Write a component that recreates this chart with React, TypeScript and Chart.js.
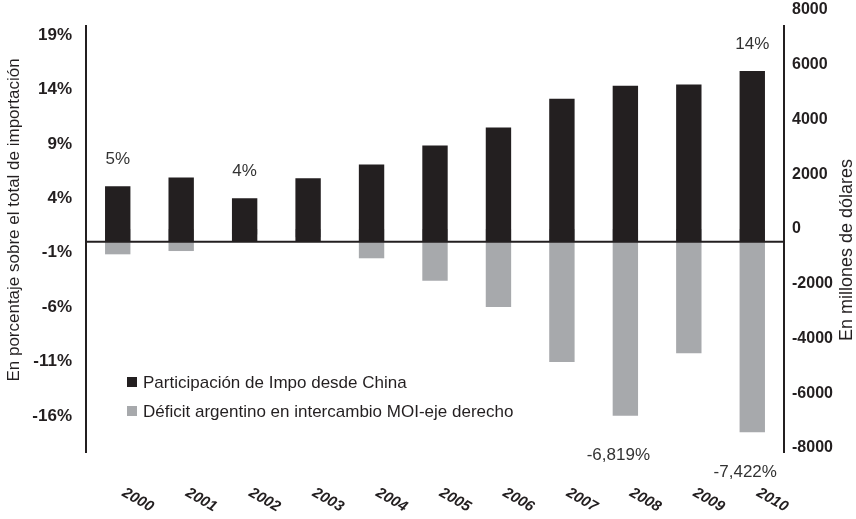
import React, { useEffect, useRef } from 'react';
import { Chart, registerables } from 'chart.js';

Chart.register(...registerables);

// ---- data ----
const years = ['2000', '2001', '2002', '2003', '2004', '2005', '2006', '2007', '2008', '2009', '2010'];
const shareChina = [5.1, 5.9, 4.0, 5.85, 7.1, 8.85, 10.5, 13.15, 14.35, 14.45, 15.7];
const deficitMOI = [-925, -805, -200, -300, -1070, -1890, -2850, -4860, -6819, -4540, -7422];
const shareLabels = ['5%', '', '4%', '', '', '', '', '', '', '', '14%'];
const deficitLabels = ['', '', '', '', '', '', '', '', '-6,819%', '', '-7,422%'];
const leftTicks = [19, 14, 9, 4, -1, -6, -11, -16];
const rightTicks = [8000, 6000, 4000, 2000, 0, -2000, -4000, -6000, -8000];
const seriesNames = ['Participación de Impo desde China', 'Déficit argentino en intercambio MOI-eje derecho'];
const leftTitle = 'En porcentaje sobre el total de importación';
const rightTitle = 'En millones de dólares';

const FONT = '"Liberation Sans", Arial, Helvetica, sans-serif';
const INK = '#231f20';
const GRAY = '#a7a9ac';

const decorPlugin = {
  id: 'decor',
  afterDatasetsDraw(chart: any) {
    const { ctx, chartArea, scales } = chart;
    const yL = scales.yL;
    const xS = scales.x;
    ctx.save();
    // axis lines
    ctx.strokeStyle = INK;
    ctx.lineWidth = 2;
    ctx.beginPath();
    ctx.moveTo(chartArea.left, 25);
    ctx.lineTo(chartArea.left, chartArea.bottom);
    ctx.moveTo(chartArea.right, 25);
    ctx.lineTo(chartArea.right, chartArea.bottom);
    ctx.stroke();
    // zero line
    const y0 = yL.getPixelForValue(0);
    ctx.beginPath();
    ctx.moveTo(chartArea.left, y0);
    ctx.lineTo(chartArea.right, y0);
    ctx.stroke();

    // value labels
    ctx.fillStyle = '#333333';
    ctx.font = `17px ${FONT}`;
    ctx.textAlign = 'center';
    ctx.textBaseline = 'middle';
    const m0 = chart.getDatasetMeta(0);
    const m1 = chart.getDatasetMeta(1);
    shareLabels.forEach((t, i) => {
      if (!t) return;
      const el = m0.data[i];
      ctx.fillText(t, el.x, el.y - 27);
    });
    deficitLabels.forEach((t, i) => {
      if (!t) return;
      const el = m1.data[i];
      ctx.fillText(t, el.x - 7, el.y + 40);
    });

    // legend
    const ds = chart.data.datasets;
    ctx.textAlign = 'left';
    ctx.font = `17px ${FONT}`;
    [382, 411].forEach((y, k) => {
      ctx.fillStyle = ds[k].backgroundColor;
      ctx.fillRect(127, y - 5, 10, 10);
      ctx.fillStyle = INK;
      ctx.fillText(ds[k].label, 143, y + 1);
    });

    // x labels (rotated clockwise)
    ctx.font = `italic bold 15px ${FONT}`;
    ctx.fillStyle = INK;
    ctx.textAlign = 'center';
    years.forEach((t, i) => {
      const x = xS.getPixelForTick(i) + 20;
      ctx.save();
      ctx.translate(x, 500);
      ctx.rotate((30 * Math.PI) / 180);
      ctx.fillText(t, 0, 0);
      ctx.restore();
    });

    // axis titles
    ctx.fillStyle = INK;
    ctx.textAlign = 'center';
    ctx.save();
    ctx.font = `17px ${FONT}`;
    ctx.translate(14, 220);
    ctx.rotate(-Math.PI / 2);
    ctx.fillText(leftTitle, 0, 0);
    ctx.restore();
    ctx.save();
    ctx.font = `18px ${FONT}`;
    ctx.translate(847, 250);
    ctx.rotate(-Math.PI / 2);
    ctx.fillText(rightTitle, 0, 0);
    ctx.restore();
    ctx.restore();
  },
};

export default function App() {
  const ref = useRef<HTMLCanvasElement>(null);
  useEffect(() => {
    document.body.style.margin = '0';
    const canvas = ref.current;
    if (!canvas) return;
    const chart = new Chart(canvas, {
      type: 'bar',
      data: {
        labels: years,
        datasets: [
          {
            label: seriesNames[0],
            data: shareChina,
            backgroundColor: INK,
            yAxisID: 'yL',
            order: 1,
            barPercentage: 0.4,
            categoryPercentage: 1,
            grouped: false,
          } as any,
          {
            label: seriesNames[1],
            data: deficitMOI,
            backgroundColor: GRAY,
            yAxisID: 'yR',
            order: 2,
            barPercentage: 0.4,
            categoryPercentage: 1,
            grouped: false,
          } as any,
        ],
      },
      options: {
        responsive: false,
        animation: false,
        layout: { padding: { top: 10, bottom: 66, left: 0, right: 0 } },
        plugins: { legend: { display: false }, tooltip: { enabled: false } },
        scales: {
          x: {
            display: true,
            grid: { display: false, drawTicks: false },
            border: { display: false },
            ticks: { display: false },
          },
          yL: {
            type: 'linear',
            position: 'left',
            min: -19.4,
            max: 21.3,
            afterBuildTicks: (s: any) => {
              s.ticks = leftTicks.map((v) => ({ value: v }));
            },
            afterFit: (s: any) => {
              s.width = 86;
              s.paddingTop = 0;
              s.paddingBottom = 0;
            },
            grid: { display: false, drawTicks: false },
            border: { display: false },
            ticks: {
              padding: 14,
              color: INK,
              font: { family: FONT, size: 17, weight: 'bold' },
              callback: (v: any) => `${v}%`,
            },
          },
          yR: {
            type: 'linear',
            position: 'right',
            min: -8183,
            max: 8000,
            afterBuildTicks: (s: any) => {
              s.ticks = rightTicks.map((v) => ({ value: v }));
            },
            afterFit: (s: any) => {
              s.width = 72;
              s.paddingTop = 0;
              s.paddingBottom = 0;
            },
            grid: { display: false, drawTicks: false },
            border: { display: false },
            ticks: {
              padding: 8,
              color: INK,
              font: { family: FONT, size: 16, weight: 'bold' },
              callback: (v: any) => `${v}`,
            },
          },
        },
      } as any,
      plugins: [decorPlugin],
    });
    return () => chart.destroy();
  }, []);
  return (
    <div style={{ width: 856, height: 519 }}>
      <canvas ref={ref} width={856} height={519} style={{ display: 'block' }} />
    </div>
  );
}
